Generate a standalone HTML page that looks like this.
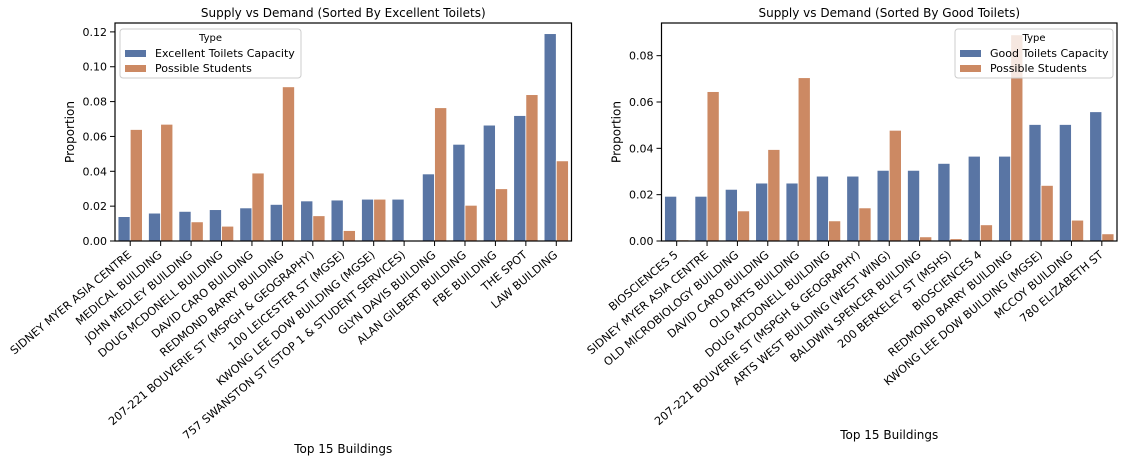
<!DOCTYPE html>
<html><head><meta charset="utf-8"><style>
body{margin:0;background:#fff;}
svg{display:block;font-family:"DejaVu Sans","Liberation Sans",sans-serif;}
</style></head><body>
<svg id="chart" width="1126" height="463" viewBox="0 0 1126 463" xmlns="http://www.w3.org/2000/svg"></svg>
<script>
const leftCategories = ["SIDNEY MYER ASIA CENTRE","MEDICAL BUILDING","JOHN MEDLEY BUILDING","DOUG MCDONELL BUILDING","DAVID CARO BUILDING","REDMOND BARRY BUILDING","207-221 BOUVERIE ST (MSPGH & GEOGRAPHY)","100 LEICESTER ST (MGSE)","KWONG LEE DOW BUILDING (MGSE)","757 SWANSTON ST (STOP 1 & STUDENT SERVICES)","GLYN DAVIS BUILDING","ALAN GILBERT BUILDING","FBE BUILDING","THE SPOT","LAW BUILDING"];
const leftCapacity = [0.014,0.016,0.017,0.018,0.019,0.021,0.023,0.0235,0.024,0.024,0.0385,0.0555,0.0665,0.072,0.119];
const leftStudents = [0.064,0.067,0.011,0.0085,0.039,0.0885,0.0145,0.006,0.024,0,0.0765,0.0205,0.030,0.084,0.046];
const leftTicks = [0,0.02,0.04,0.06,0.08,0.10,0.12];
const leftTickLabels = ["0.00","0.02","0.04","0.06","0.08","0.10","0.12"];
const rightCategories = ["BIOSCIENCES 5","SIDNEY MYER ASIA CENTRE","OLD MICROBIOLOGY BUILDING","DAVID CARO BUILDING","OLD ARTS BUILDING","DOUG MCDONELL BUILDING","207-221 BOUVERIE ST (MSPGH & GEOGRAPHY)","ARTS WEST BUILDING (WEST WING)","BALDWIN SPENCER BUILDING","200 BERKELEY ST (MSHS)","BIOSCIENCES 4","REDMOND BARRY BUILDING","KWONG LEE DOW BUILDING (MGSE)","MCCOY BUILDING","780 ELIZABETH ST"];
const rightCapacity = [0.0193,0.0193,0.0223,0.025,0.025,0.028,0.028,0.0305,0.0305,0.0335,0.0366,0.0366,0.0503,0.0503,0.0558];
const rightStudents = [0.0005,0.0645,0.013,0.0395,0.0705,0.0087,0.0143,0.0478,0.0018,0.001,0.007,0.089,0.024,0.009,0.0031];
const rightTicks = [0,0.02,0.04,0.06,0.08];
const rightTickLabels = ["0.00","0.02","0.04","0.06","0.08"];

const NS="http://www.w3.org/2000/svg";
const svg=document.getElementById('chart');
function mk(tag,attrs,parent){const e=document.createElementNS(NS,tag);for(const k in attrs)e.setAttribute(k,attrs[k]);(parent||svg).appendChild(e);return e;}

function drawPanel(p){
  const g=mk('g',{});
  
  
  const x0=p.x0,x1=p.x1,y0=23,y1=241;
  const n=p.cats.length, step=(x1-x0)/n;
  const ys=v=>y1-(v/p.ymax)*(y1-y0);
  const xc=i=>x0+step*(i+0.5);
  const bw=step*0.4;
  for(let i=0;i<n;i++){
    const r1=mk('rect',{x:xc(i)-bw,y:ys(p.cap[i]),width:bw,height:y1-ys(p.cap[i]),fill:'#5975a4',stroke:'#fff','stroke-width':0.8},g);
    
    
    const r2=mk('rect',{x:xc(i),y:ys(p.stu[i]),width:bw,height:y1-ys(p.stu[i]),fill:'#cc8963',stroke:'#fff','stroke-width':0.8},g);
    
    
    mk('line',{x1:xc(i),x2:xc(i),y1:y1,y2:y1+5,stroke:'#000','stroke-width':1},g);
    const t=mk('text',{x:0,y:0,'font-size':11.2,'text-anchor':'end',fill:'#000',transform:`translate(${xc(i)+2},${y1+15}) rotate(-40)`},g);
    t.textContent=p.cats[i];
    
    
  }
  p.ticks.forEach((v,j)=>{
    const y=ys(v);
    mk('line',{x1:x0-5,x2:x0,y1:y,y2:y,stroke:'#000','stroke-width':1},g);
    const t=mk('text',{x:x0-8,y:y+4,'font-size':11,'text-anchor':'end',fill:'#000'},g);
    t.textContent=p.tickLabels[j];
    
    
  });
  mk('rect',{x:x0,y:y0,width:x1-x0,height:y1-y0,fill:'none',stroke:'#000','stroke-width':1.2},g);
  const title=mk('text',{x:(x0+x1)/2,y:17,'font-size':12,'text-anchor':'middle'},g);
  title.textContent=p.title;
  
  
  const yl=mk('text',{x:0,y:0,'font-size':12,'text-anchor':'middle',transform:`translate(${x0-41},${(y0+y1)/2}) rotate(-90)`},g);
  yl.textContent='Proportion';
  
  
  const xl=mk('text',{x:(x0+x1)/2,y:p.xlabY,'font-size':12,'text-anchor':'middle'},g);
  xl.textContent='Top 15 Buildings';
  
  
  const lg=mk('g',{},g);
  
  
  mk('rect',{x:p.lx,y:29,width:p.lw,height:49,rx:3,fill:'#fff','fill-opacity':0.8,stroke:'#ccc','stroke-width':1},lg);
  const lt=mk('text',{x:p.lx+p.lw/2,y:41,'font-size':10,'text-anchor':'middle'},lg);
  lt.textContent='Type';
  [[p.series1,'#5975a4',53],[p.series2,'#cc8963',68]].forEach(s=>{
    mk('rect',{x:p.lx+5,y:s[2]-3,width:21,height:7,fill:s[1]},lg);
    const e=mk('text',{x:p.lx+35,y:s[2]+4,'font-size':11},lg);
    e.textContent=s[0];
    
    
  });
}
drawPanel({id:'left',x0:115,x1:571.5,ymax:0.1251,cats:leftCategories,cap:leftCapacity,stu:leftStudents,ticks:leftTicks,tickLabels:leftTickLabels,title:'Supply vs Demand (Sorted By Excellent Toilets)',xlabY:453,lx:120,lw:181,series1:'Excellent Toilets Capacity',series2:'Possible Students'});
drawPanel({id:'right',x0:661.5,x1:1117,ymax:0.0941,cats:rightCategories,cap:rightCapacity,stu:rightStudents,ticks:rightTicks,tickLabels:rightTickLabels,title:'Supply vs Demand (Sorted By Good Toilets)',xlabY:439,lx:955,lw:158,series1:'Good Toilets Capacity',series2:'Possible Students'});
</script>
</body></html>
